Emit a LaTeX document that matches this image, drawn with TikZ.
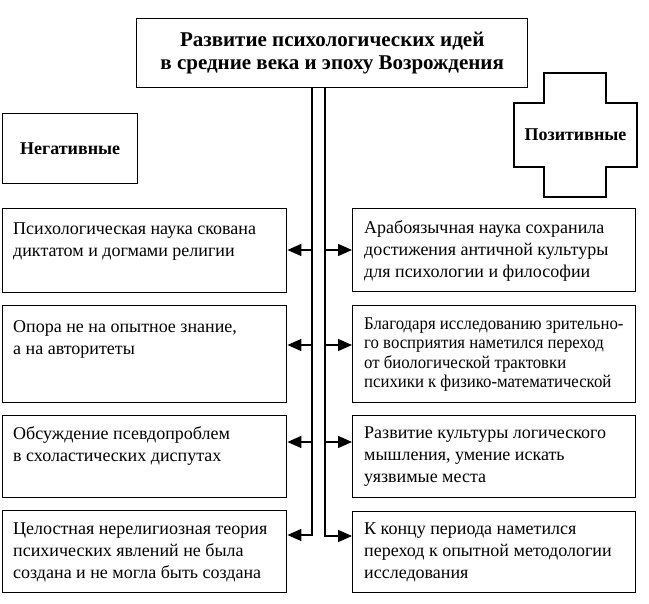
\documentclass[tikz,border=0pt]{standalone}
\usepackage{fontspec}
\setmainfont{Liberation Serif}
\newfontfamily\condfont[FakeStretch=0.93]{Liberation Serif}
\usetikzlibrary{arrows.meta}
\begin{document}
\begin{tikzpicture}[x=1pt,y=-1pt,
  frame/.style={draw, line width=1.4pt, rectangle, anchor=north west, inner sep=0pt},
  lbox/.style={frame, minimum width=284pt},
  rbox/.style={frame, minimum width=283pt},
  txt/.style={anchor=north west, inner sep=0pt, align=left, font=\fontsize{18}{22}\selectfont},
  ctxt/.style={anchor=north west, inner sep=0pt, align=left, font=\condfont\fontsize{18}{19.3}\selectfont},
  head/.style={font=\bfseries\fontsize{18}{22}\selectfont, inner sep=0pt},
  trunk/.style={line width=1.4pt},
  arr/.style={line width=1.4pt, -{Triangle[length=14pt,width=12pt]}}]
\useasboundingbox (0,0) rectangle (649,604);
% title
\node[frame, minimum width=391pt, minimum height=69pt] (T) at (136,18) {};
\node[head, font=\bfseries\fontsize{21}{23}\selectfont, align=center] (Tt) at (T.center) {Развитие психологических идей\\в средние века и эпоху Возрождения};
% negative
\node[frame, minimum width=135pt, minimum height=70pt] (N) at (2,113) {};
\node[head] (Nt) at (N.center) {Негативные};
% positive cross
\draw[line width=1.4pt] (544,73) -- (606,73) -- (606,103) -- (637,103) -- (637,167) -- (606,167) -- (606,197) -- (544,197) -- (544,167) -- (514,167) -- (514,103) -- (544,103) -- cycle;
\node[head] (P) at (575.5,135) {Позитивные};
% left boxes
\node[lbox, minimum height=84pt] (L1) at (2,208) {};
\node[lbox, minimum height=97pt] (L2) at (2,305) {};
\node[lbox, minimum height=82pt] (L3) at (2,415) {};
\node[lbox, minimum height=82pt] (L4) at (2,510) {};
\node[txt] (L1t) at ([shift={(11,14.5)}]L1.north west) {Психологическая наука скована\\диктатом и догмами религии};
\node[txt] (L2t) at ([shift={(11,15.5)}]L2.north west) {Опора не на опытное знание,\\а на авторитеты};
\node[txt] (L3t) at ([shift={(11,11.5)}]L3.north west) {Обсуждение псевдопроблем\\в схоластических диспутах};
\node[txt] (L4t) at ([shift={(11,12.5)}]L4.north west) {Целостная нерелигиозная теория\\психических явлений не была\\создана и не могла быть создана};
% right boxes
\node[rbox, minimum height=83pt] (R1) at (352,208) {};
\node[rbox, minimum height=97pt] (R2) at (352,305) {};
\node[rbox, minimum height=82pt] (R3) at (352,415) {};
\node[rbox, minimum height=81pt] (R4) at (352,511) {};
\node[txt] (R1t) at ([shift={(12,12.5)}]R1.north west) {Арабоязычная наука сохранила\\достижения античной культуры\\для психологии и философии};
\node[ctxt] (R2t) at ([shift={(12,12.5)}]R2.north west) {Благодаря исследованию зрительно-\\го восприятия наметился переход\\от биологической трактовки\\психики к физико-математической};
\node[txt] (R3t) at ([shift={(12,11.5)}]R3.north west) {Развитие культуры логического\\мышления, умение искать\\уязвимые места};
\node[txt] (R4t) at ([shift={(12,11.5)}]R4.north west) {К концу периода наметился\\переход к опытной методологии\\исследования};
% trunk coordinates
\coordinate (a1) at (312,250);
\coordinate (a2) at (312,345);
\coordinate (a3) at (312,442);
\coordinate (a4) at (312,535);
\coordinate (b1) at (325,250);
\coordinate (b2) at (325,345);
\coordinate (b3) at (325,442);
\coordinate (b4) at (325,536);
% trunks
\draw[arr] (T.south -| a4) -- (a4) -- (a4 -| L4.east);
\draw[arr] (T.south -| b4) -- (b4) -- (b4 -| R4.west);
% branches
\draw[arr] (a1) -- (a1 -| L1.east);
\draw[arr] (a2) -- (a2 -| L2.east);
\draw[arr] (a3) -- (a3 -| L3.east);
\draw[arr] (b1) -- (b1 -| R1.west);
\draw[arr] (b2) -- (b2 -| R2.west);
\draw[arr] (b3) -- (b3 -| R3.west);
\end{tikzpicture}
\end{document}
